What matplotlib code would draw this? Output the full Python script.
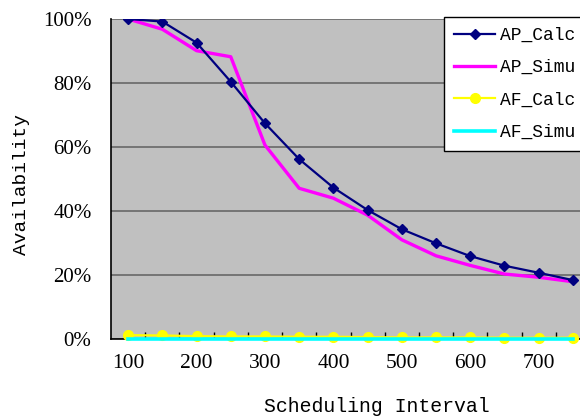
import numpy as np
import matplotlib
matplotlib.use("Agg")
import matplotlib.pyplot as plt
from matplotlib.ticker import FixedLocator, PercentFormatter

# scheduling interval categories
intervals = [100, 150, 200, 250, 300, 350, 400, 450, 500, 550, 600, 650, 700, 750]

ap_calc = [1.000, 0.992, 0.926, 0.804, 0.674, 0.562, 0.473, 0.403, 0.343, 0.299,
           0.259, 0.229, 0.207, 0.184]
ap_simu = [1.000, 0.968, 0.901, 0.882, 0.606, 0.471, 0.440, 0.387, 0.310, 0.260,
           0.230, 0.203, 0.193, 0.179]
af_calc = [0.012, 0.011, 0.009, 0.008, 0.008, 0.007, 0.007, 0.006, 0.005, 0.005,
           0.005, 0.004, 0.004, 0.004]
af_simu = [0.0] * len(intervals)

x = np.arange(len(intervals))

fig = plt.figure(figsize=(5.8, 4.18), dpi=100)
ax = fig.add_axes([111 / 580, 79 / 418, 479 / 580, 320 / 418])
ax.set_facecolor("#C0C0C0")

ax.plot(x, ap_calc, color="#000080", lw=1.6, marker="D", ms=5.5, label="AP_Calc", zorder=5)
ax.plot(x, ap_simu, color="#FF00FF", lw=2.4, label="AP_Simu", zorder=4)
ax.plot(x, af_calc, color="#FFFF00", lw=1.6, marker="o", ms=7, label="AF_Calc",
        zorder=5, clip_on=False)
ax.plot(x, af_simu, color="#00FFFF", lw=2.6, label="AF_Simu", zorder=6, clip_on=False)

ax.set_xlim(-0.5, len(intervals) - 0.5)
ax.set_ylim(0, 1)
ax.yaxis.set_major_locator(FixedLocator([0, 0.2, 0.4, 0.6, 0.8, 1.0]))
ax.yaxis.set_major_formatter(PercentFormatter(1.0, decimals=0))
ax.grid(axis="y", color="#686868", lw=1.2)
ax.set_axisbelow(True)

ax.set_xticks(x[::2])
ax.set_xticklabels([str(v) for v in intervals[::2]])
ax.set_xticks(np.arange(0.5, len(intervals) - 0.5, 1), minor=True)
ax.tick_params(axis="x", which="major", length=0, pad=11)
ax.tick_params(axis="x", which="minor", direction="in", length=5, width=1, color="black")
ax.tick_params(axis="y", length=0, pad=14)
for lab in ax.get_xticklabels():
    lab.set_fontfamily("Liberation Serif")
    lab.set_fontsize(15.5)
for lab in ax.get_yticklabels():
    lab.set_fontfamily("Liberation Serif")
    lab.set_fontsize(15)

for s in ["top", "right"]:
    ax.spines[s].set_visible(False)
ax.spines["left"].set_color("black")
ax.spines["bottom"].set_color("black")
ax.spines["left"].set_linewidth(1.2)
ax.spines["bottom"].set_linewidth(1.2)

fig.text(377 / 580, 1 - 406 / 418, "Scheduling Interval", ha="center", va="center",
         fontfamily="Liberation Mono", fontsize=14.3)
fig.text(22 / 580, 1 - 185 / 418, "Availability", ha="center", va="center",
         rotation=90, fontfamily="Liberation Mono", fontsize=14)

leg = fig.legend(loc="upper left", bbox_to_anchor=(444 / 580, 1 - 17 / 418),
                 borderaxespad=0, fancybox=False, framealpha=1, edgecolor="black",
                 prop={"family": "Liberation Mono", "size": 13},
                 handlelength=2.3, handletextpad=0.25, labelspacing=0.85, borderpad=0.55)
leg.get_frame().set_linewidth(1.0)

fig.savefig("out.png", dpi=100)
